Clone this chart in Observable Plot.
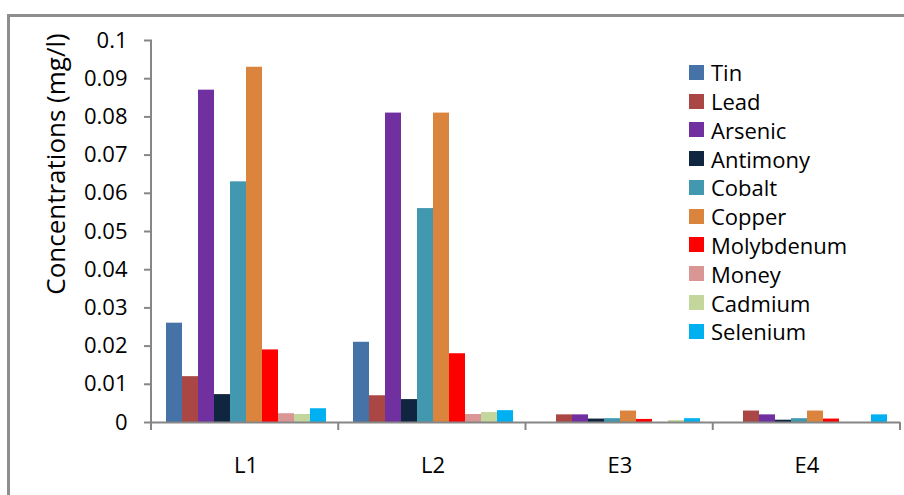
<!DOCTYPE html>
<html>
<head>
<meta charset="utf-8">
<script src="https://cdn.jsdelivr.net/npm/d3@7"></script>
<script src="https://cdn.jsdelivr.net/npm/@observablehq/plot@0.6"></script>
<style>
  html, body { margin: 0; padding: 0; background: #fff; }
  #wrap { position: relative; width: 904px; height: 495px; overflow: hidden; font-family: "Open Sans", sans-serif; color: #000; }
  #border { position: absolute; left: 7px; top: 14px; width: 1000px; height: 1000px; border-top: 3px solid #8e8e8e; border-left: 3px solid #8e8e8e; box-sizing: border-box; pointer-events: none; }
  #ytitle { position: absolute; left: 55px; top: 164px; transform: translate(-50%, -50%) rotate(-90deg); white-space: nowrap; font-size: 26px; line-height: 1; }
  #legend { position: absolute; left: 689px; top: 58px; }
  .row { display: flex; align-items: center; height: 28.78px; }
  .sw { width: 15px; height: 15px; margin-right: 7px; flex: none; }
  .lab { font-size: 22px; line-height: 1; white-space: nowrap; }
</style>
</head>
<body>
<div id="wrap"><div id="border"></div></div>
<script>
// ---- data ----
const categories = ["L1", "L2", "E3", "E4"];
const series = ["Tin", "Lead", "Arsenic", "Antimony", "Cobalt", "Copper", "Molybdenum", "Money", "Cadmium", "Selenium"];
const colors = ["#4572A7", "#AA4643", "#7030A0", "#10253F", "#4198AF", "#DB843D", "#FF0000", "#D99694", "#C3D69B", "#00B0F0"];

const tin        = [0.026, 0.021, 0, 0];
const lead       = [0.012, 0.007, 0.002, 0.003];
const arsenic    = [0.087, 0.081, 0.002, 0.002];
const antimony   = [0.0073, 0.006, 0.0009, 0.0006];
const cobalt     = [0.063, 0.056, 0.001, 0.001];
const copper     = [0.093, 0.081, 0.003, 0.003];
const molybdenum = [0.019, 0.018, 0.0008, 0.0009];
const money      = [0.0023, 0.0021, 0, 0];
const cadmium    = [0.0021, 0.0026, 0.0005, 0];
const selenium   = [0.0036, 0.0031, 0.001, 0.002];

const yTicks = [0, 0.01, 0.02, 0.03, 0.04, 0.05, 0.06, 0.07, 0.08, 0.09, 0.1];
const yTickLabels = ["0", "0.01", "0.02", "0.03", "0.04", "0.05", "0.06", "0.07", "0.08", "0.09", "0.1"];
const yTitle = "Concentrations (mg/l)";

// ---- table ----
const valuesBySeries = [tin, lead, arsenic, antimony, cobalt, copper, molybdenum, money, cadmium, selenium];
const data = [];
series.forEach((s, si) => {
  categories.forEach((c, ci) => {
    data.push({category: c, series: s, value: valuesBySeries[si][ci]});
  });
});

const axisGray = "#868686";

const chart = Plot.plot({
  width: 904,
  height: 495,
  marginLeft: 151,
  marginRight: 4,
  marginTop: 40,
  marginBottom: 73,
  style: {fontFamily: '"Open Sans", sans-serif', fontSize: "22px", color: "#000", background: "transparent", overflow: "visible"},
  fx: {domain: categories, paddingInner: 0, paddingOuter: 0},
  x: {domain: series, paddingInner: 0, paddingOuter: 0.74, align: 0.5, axis: null},
  y: {domain: [0, 0.1]},
  color: {domain: series, range: colors},
  marks: [
    Plot.barY(data, {fx: "category", x: "series", y: "value", fill: "series"}),
    Plot.ruleY([0], {stroke: axisGray, strokeWidth: 2}),
    Plot.axisY(yTicks, {
      tickSize: 8, tickPadding: 17,
      tickFormat: d => yTickLabels[yTicks.indexOf(d)],
      stroke: axisGray, strokeWidth: 2, fill: "#000", label: null
    }),
    Plot.axisFx({anchor: "bottom", tickSize: 0, tickPadding: 35, label: null, fill: "#000"})
  ]
});

const wrap = document.getElementById("wrap");
chart.style.position = "absolute";
chart.style.left = "0px";
chart.style.top = "0px";
wrap.appendChild(chart);

// axis line and category boundary ticks derived from Plot's scales
const fxS = chart.scale("fx");
const yS = chart.scale("y");
const fx = d3.scaleBand().domain(fxS.domain).range(fxS.range);
const y = d3.scaleLinear().domain(yS.domain).range(yS.range);
const svg = d3.select(chart);
const g = svg.append("g").attr("stroke", axisGray).attr("stroke-width", 2);
const x0 = fx(categories[0]);
g.append("line").attr("x1", x0).attr("x2", x0).attr("y1", y(0.1)).attr("y2", y(0) + 8);
const bounds = categories.map(c => fx(c)).concat([fx.range()[1]]);
g.selectAll(".bt").data(bounds).join("line")
  .attr("x1", d => d).attr("x2", d => d)
  .attr("y1", y(0)).attr("y2", y(0) + 8);

// y title
const t = document.createElement("div");
t.id = "ytitle";
t.textContent = yTitle;
wrap.appendChild(t);

// legend
const lg = document.createElement("div");
lg.id = "legend";
series.forEach((s, i) => {
  const r = document.createElement("div");
  r.className = "row";
  const sw = document.createElement("div");
  sw.className = "sw";
  sw.style.background = colors[i];
  const lb = document.createElement("div");
  lb.className = "lab";
  lb.textContent = s;
  r.appendChild(sw); r.appendChild(lb);
  lg.appendChild(r);
});
wrap.appendChild(lg);
</script>
</body>
</html>
